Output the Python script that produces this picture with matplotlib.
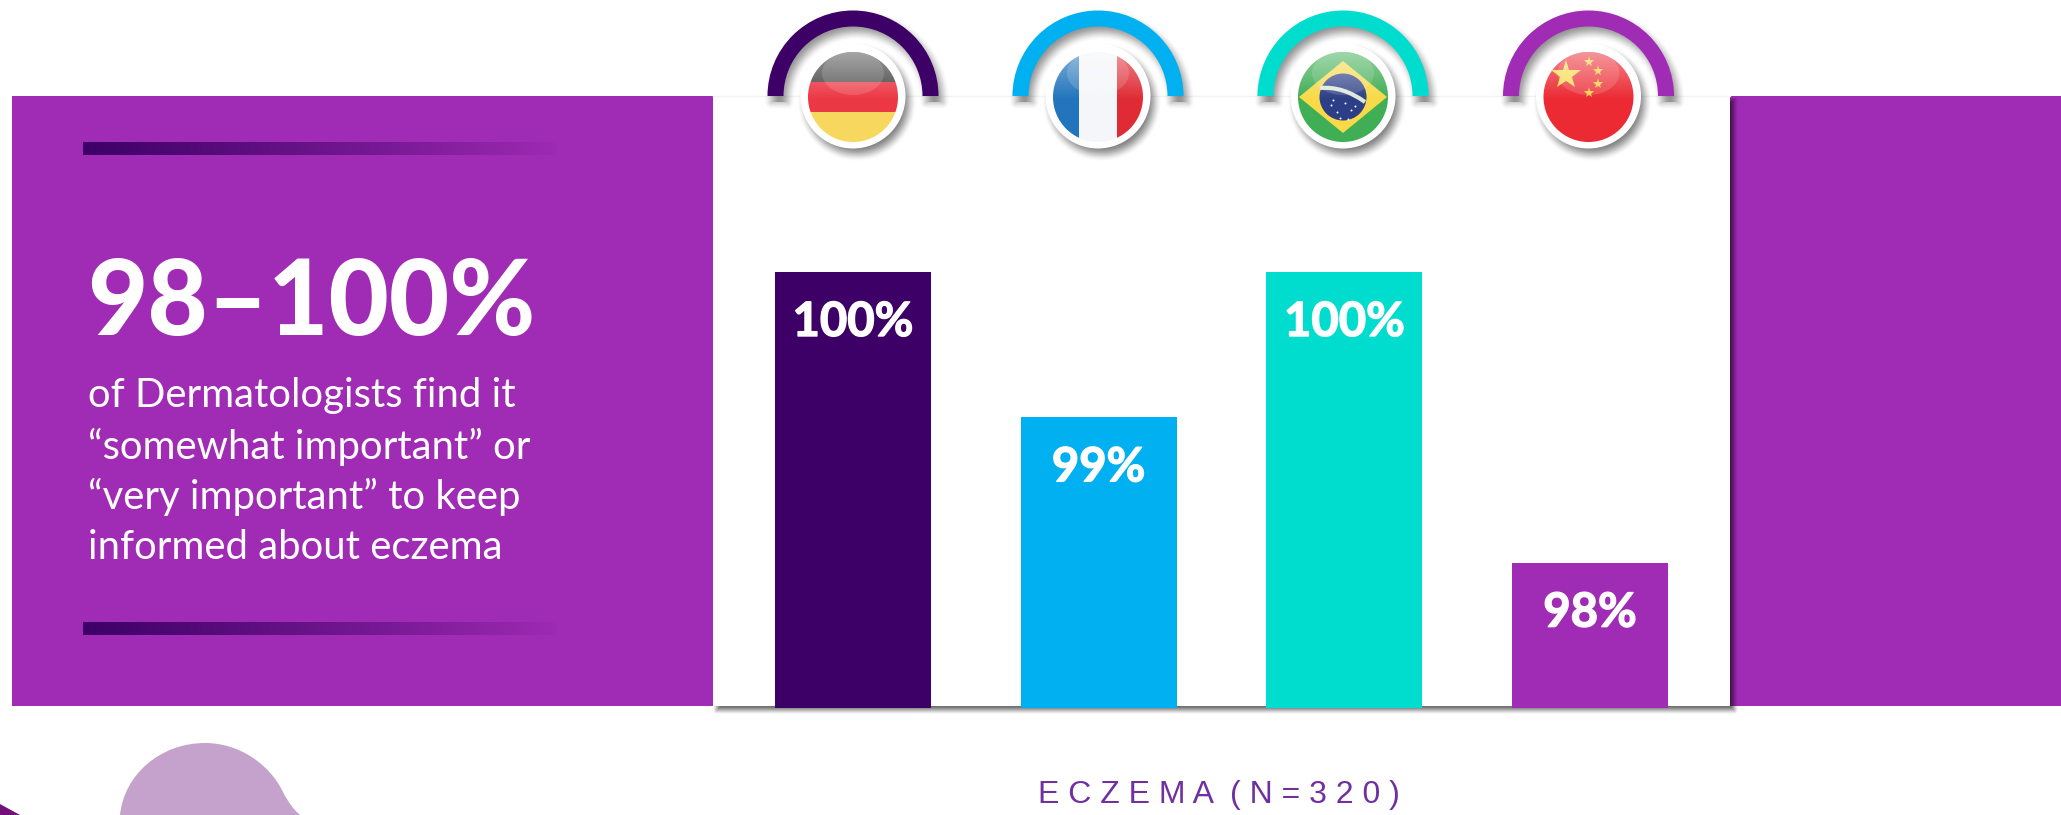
import matplotlib
matplotlib.use("Agg")
import matplotlib.patheffects as pe
import matplotlib.pyplot as plt
import numpy as np
from matplotlib.colors import to_rgb
from matplotlib.patches import Circle, Ellipse, PathPatch, Polygon, Rectangle, Wedge
from matplotlib.path import Path

# --- data ---
countries = ["Germany", "France", "Brazil", "China"]
values = [100, 99, 100, 98]
labels = ["100%", "99%", "100%", "98%"]
bar_colors = ["#3D0066", "#00B0F0", "#00DDCE", "#A02BB5"]

headline = "98–100%"
body_lines = [
    "of Dermatologists find it",
    "“somewhat important” or",
    "“very important” to keep",
    "informed about eczema",
]
axis_title = "E C Z E M A  ( N = 3 2 0 )"

PURPLE = "#A02BB5"
W, H = 2061, 815

plt.rcParams["font.family"] = ["Lato", "DejaVu Sans"]

fig = plt.figure(figsize=(W / 100, H / 100), dpi=100, facecolor="white")

# background axes work in image pixels
bg = fig.add_axes([0, 0, 1, 1], zorder=0)
bg.set_xlim(0, W)
bg.set_ylim(H, 0)
bg.axis("off")


def soft_shadow(dist_fn, extent, blur=6, strength=0.55, zorder=2):
    # dist_fn gives distance to the shape, negative inside
    x0, x1, y0, y1 = extent
    xx, yy = np.meshgrid(np.arange(x0, x1) + 0.5, np.arange(y0, y1) + 0.5)
    d = dist_fn(xx, yy)
    a = np.clip((blur - d) / (2 * blur), 0, 1)
    a = a * a * (3 - 2 * a) * strength
    img = np.zeros(a.shape + (4,))
    img[..., 3] = a
    bg.imshow(img, extent=(x0, x1, y1, y0), aspect="auto", zorder=zorder, interpolation="bilinear")


def panel_shadow_dist(x, y):
    # shadow of the white panel, only outside the panel itself
    dx = np.maximum(717 - x, x - 1734)
    dy = np.maximum(100 - y, y - 710)
    d = np.hypot(np.maximum(dx, 0), np.maximum(dy, 0)) + np.minimum(np.maximum(dx, dy), 0)
    return np.where((x < 1730) & (y < 706), 99.0, d)


def circle_dist(cx, cy, r):
    return lambda x, y: np.hypot(x - cx, y - cy) - r


def arc_dist(cx, cy, r_out, r_in):
    mid = (r_out + r_in) / 2
    half = (r_out - r_in) / 2

    def f(x, y):
        radial = np.abs(np.hypot(x - cx, np.minimum(y - cy, 0)) - mid) - half
        below = np.maximum(y - cy, 0)
        return np.where(below > 0, np.hypot(np.maximum(radial, 0), below), radial)
    return f


def fade_bar(x0, x1, y0, y1, color):
    img = np.zeros((1, 256, 4))
    img[..., :3] = to_rgb(color)
    img[..., 3] = np.linspace(1, 0, 256) ** 0.9
    bg.imshow(img, extent=(x0, x1, y1, y0), aspect="auto", zorder=3, interpolation="bilinear")


# --- panels ---
bg.add_patch(Rectangle((12, 96), 701, 610, fc=PURPLE, ec="none", zorder=1))
bg.add_patch(Rectangle((1730, 96), W - 1730, 610, fc=PURPLE, ec="none", zorder=1))
bg.add_patch(Rectangle((713, 96), 1017, 610, fc="white", ec="none", zorder=1))
bg.plot([713, 1730], [96, 96], color="#F3F3F3", lw=1, zorder=1.2)
soft_shadow(panel_shadow_dist, (713, 1750, 96, 730), blur=5, strength=0.6, zorder=1.5)

fade_bar(83, 560, 142, 155, "#3D0066")
fade_bar(83, 560, 622, 635, "#3D0066")

bg.text(87, 304, headline, color="white", fontsize=75, fontweight="black", va="center", ha="left", zorder=4)
for i, line in enumerate(body_lines):
    bg.text(88, 396 + i * 50.5, line, color="white", fontsize=28.8, va="center", ha="left", zorder=4)

# --- decoration bottom left ---
blob = Path(
    [(120, 815), (124, 775), (160, 743), (205, 743), (240, 743), (270, 765), (283, 792),
     (288, 802), (294, 810), (300, 815), (120, 815)],
    [Path.MOVETO, Path.CURVE4, Path.CURVE4, Path.CURVE4, Path.CURVE4, Path.CURVE4, Path.CURVE4,
     Path.CURVE4, Path.CURVE4, Path.CURVE4, Path.CLOSEPOLY],
)
bg.add_patch(PathPatch(blob, fc="#C5A2CC", ec="none", zorder=1))
bg.add_patch(Polygon([(0, 804), (20, 815), (0, 815)], fc="#74107A", ec="none", zorder=1))

bg.text(1219, 795, axis_title, color="#7030A0", fontsize=23, family="Liberation Sans",
        ha="center", va="center", zorder=4)

# --- bars ---
ax = fig.add_axes([730 / W, (H - 708) / H, 983 / W, 436 / H], zorder=1)
ax.patch.set_alpha(0)
x = np.arange(len(countries))
bars = ax.bar(x, values, width=0.635, color=bar_colors)
ax.set_xlim(-0.5, 3.5)
ax.set_ylim(97, 100)
ax.axis("off")
for xi, v, lab in zip(x, values, labels):
    ax.annotate(lab, (xi, v), xytext=(0, -36), textcoords="offset points", ha="center", va="center",
                color="white", fontsize=34, fontweight="bold",
                path_effects=[pe.withStroke(linewidth=1, foreground="white")])


# --- flags ---
def flag_base(cx, cy=97, r=45):
    circ = Circle((cx, cy), r, fc="none", ec="none", zorder=6)
    bg.add_patch(circ)
    return circ


def clipped(artist, circ):
    bg.add_artist(artist)
    artist.set_clip_path(circ)
    return artist


def gloss(cx, circ, cy=97, r=45):
    n = 90
    shade = np.zeros((n, 1, 4))
    t = np.linspace(0, 1, n)
    shade[..., :3] = 1
    shade[:, 0, 3] = np.clip(0.42 * (1 - t * 1.9), 0, 1)
    im = bg.imshow(shade, extent=(cx - r, cx + r, cy + r, cy - r), aspect="auto", zorder=8,
                   interpolation="bilinear")
    im.set_clip_path(circ)
    clipped(Ellipse((cx, cy - 24), 62, 44, fc="white", alpha=0.14, ec="none", zorder=8), circ)


def germany(cx, circ):
    for y0, y1, c in [(52, 82, "#4A4A4A"), (82, 112, "#EC3845"), (112, 142, "#F8D75F")]:
        clipped(Rectangle((cx - 46, y0), 92, y1 - y0, fc=c, ec="none", zorder=7), circ)


def france(cx, circ):
    for x0, x1, c in [(-46, -19, "#2274BC"), (-19, 19, "#F4F6FA"), (19, 46, "#E02B35")]:
        clipped(Rectangle((cx + x0, 52), x1 - x0, 90, fc=c, ec="none", zorder=7), circ)


def brazil(cx, circ):
    clipped(Rectangle((cx - 46, 52), 92, 90, fc="#3FAE54", ec="none", zorder=7), circ)
    clipped(Polygon([(cx - 44, 97), (cx, 61), (cx + 44, 97), (cx, 133)], fc="#F8D94A", ec="none", zorder=7), circ)
    clipped(Circle((cx, 97), 23.5, fc="#2C3E86", ec="none", zorder=7), circ)
    band = Path([(cx - 23, 88), (cx, 86), (cx + 22, 102)], [Path.MOVETO, Path.CURVE3, Path.CURVE3])
    clipped(PathPatch(band, fc="none", ec="#DDE8D8", lw=3, zorder=7.5), circ)
    sx = [-12, -6, 2, 8, -3, 12, 5, -10]
    sy = [105, 112, 103, 110, 118, 106, 119, 100]
    bg.scatter([cx + s for s in sx], sy, s=2, c="white", lw=0, zorder=7.5)


def china(cx, circ):
    clipped(Rectangle((cx - 46, 52), 92, 90, fc="#EC2A33", ec="none", zorder=7), circ)
    bg.plot([cx - 23], [75], marker="*", ms=22, color="#F8D94A", mew=0, zorder=7.5)
    for dx, dy in [(0, 62), (9, 71), (9, 84), (0, 93)]:
        bg.plot([cx + dx], [dy], marker="*", ms=8, color="#F8C93A", mew=0, zorder=7.5)


flag_fns = [germany, france, brazil, china]
centers = [853, 1098, 1343, 1588.5]
for cx, col, fn in zip(centers, bar_colors, flag_fns):
    # arc with its shadow
    soft_shadow(arc_dist(cx + 4, 102, 85.5, 69.5), (int(cx) - 100, int(cx) + 110, 0, 125),
                blur=8, strength=0.42, zorder=4)
    bg.add_patch(Wedge((cx, 96), 85.5, 180, 360, width=16, fc=col, ec="none", zorder=4.5))
    # white ring and flag
    soft_shadow(circle_dist(cx + 4, 102, 52), (int(cx) - 70, int(cx) + 75, 30, 170),
                blur=8, strength=0.5, zorder=5)
    bg.add_patch(Circle((cx, 96), 52.5, fc="white", ec="none", zorder=5.5))
    circ = flag_base(cx)
    fn(cx, circ)
    gloss(cx, circ)

bg.set_xlim(0, W)
bg.set_ylim(H, 0)

fig.savefig("out.png", dpi=100)
